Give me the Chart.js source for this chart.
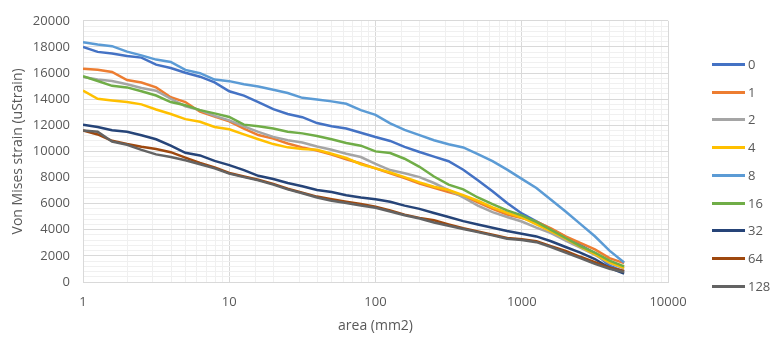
<!DOCTYPE html>
<html>
<head>
<meta charset="utf-8">
<title>Von Mises strain vs area</title>
<script src="https://cdn.jsdelivr.net/npm/chart.js@4.4.1/dist/chart.umd.min.js"></script>
<style>
    body { margin: 0; background: #fff; }
    .wrap { position: relative; width: 770px; height: 338px; }
    .legend { position: absolute; left: 712px; top: 0; font: 13px "Open Sans", sans-serif; color: #595959; }
    .legend-item { position: absolute; left: 0; height: 18px; white-space: nowrap; }
    .legend-line { position: absolute; left: 0; top: 8px; width: 33px; height: 3px; }
    .legend-text { position: absolute; left: 36px; top: 0; line-height: 18px; }
</style>
</head>
<body>
<div class="wrap">
    <canvas id="strainChart" width="770" height="338"></canvas>
    <div class="legend" id="legend"></div>
</div>
<script>
// area (mm2), roughly 10 points per decade
const areas = [1, 1.26, 1.58, 2, 2.51, 3.16, 3.98, 5.01, 6.31, 7.94,
    10, 12.6, 15.8, 20, 25.1, 31.6, 39.8, 50.1, 63.1, 79.4,
    100, 126, 158, 200, 251, 316, 398, 501, 631, 794,
    1000, 1259, 1585, 1995, 2512, 3162, 3981, 5012];

const seriesNames = ['0', '1', '2', '4', '8', '16', '32', '64', '128'];
const seriesColors = ['#4472C4', '#ED7D31', '#A5A5A5', '#FFC000', '#5B9BD5', '#70AD47', '#264478', '#9E480E', '#636363'];

const s0 = [17990, 17620, 17500, 17300, 17180, 16640, 16390, 16020, 15720, 15280,
    14600, 14270, 13780, 13240, 12860, 12620, 12170, 11920, 11750, 11430,
    11100, 10800, 10350, 9950, 9600, 9250, 8600, 7800, 6950, 6050,
    5250, 4650, 4050, 3450, 2850, 2200, 1250, 800];
const s1 = [16330, 16250, 16080, 15460, 15270, 14900, 14150, 13780, 13040, 12660,
    12300, 11750, 11250, 10980, 10610, 10310, 10070, 9750, 9400, 9070,
    8700, 8330, 7950, 7530, 7210, 6890, 6590, 6100, 5600, 5160,
    4900, 4610, 4110, 3490, 2990, 2500, 1830, 1440];
const s2 = [15690, 15510, 15390, 15140, 14850, 14650, 14030, 13460, 13160, 12720,
    12380, 11920, 11500, 11110, 10860, 10680, 10370, 10120, 9820, 9570,
    9050, 8570, 8330, 8030, 7580, 7040, 6470, 5850, 5350, 4980,
    4630, 4160, 3740, 3170, 2630, 2080, 1440, 1020];
const s4 = [14650, 14030, 13900, 13780, 13600, 13210, 12860, 12470, 12270, 11870,
    11700, 11300, 10930, 10560, 10310, 10190, 10120, 9820, 9500, 9020,
    8700, 8380, 8030, 7630, 7290, 7040, 6640, 6220, 5720, 5300,
    4940, 4410, 3870, 3320, 2700, 2130, 1510, 1090];
const s8 = [18365, 18180, 18060, 17640, 17350, 17030, 16850, 16240, 15990, 15500,
    15380, 15140, 14970, 14720, 14470, 14100, 13980, 13830, 13650, 13160,
    12800, 12150, 11650, 11250, 10850, 10550, 10300, 9800, 9250, 8600,
    7900, 7200, 6300, 5400, 4450, 3500, 2400, 1500];
const s16 = [15760, 15390, 15020, 14900, 14600, 14280, 13780, 13530, 13160, 12910,
    12640, 12050, 11920, 11750, 11500, 11380, 11180, 10930, 10640, 10440,
    10000, 9870, 9440, 8820, 8080, 7460, 7090, 6470, 5970, 5480,
    5100, 4610, 3990, 3370, 2750, 2250, 1640, 1190];
const s32 = [12045, 11870, 11620, 11500, 11230, 10930, 10440, 9890, 9690, 9270,
    8950, 8570, 8130, 7880, 7580, 7330, 7040, 6890, 6640, 6470,
    6340, 6150, 5850, 5600, 5280, 4980, 4660, 4410, 4160, 3910,
    3700, 3490, 3120, 2680, 2250, 1760, 1090, 640];
const s64 = [11600, 11300, 10810, 10560, 10360, 10190, 9940, 9520, 9120, 8780,
    8350, 8080, 7830, 7510, 7140, 6840, 6540, 6340, 6150, 5970,
    5760, 5480, 5160, 4910, 4730, 4410, 4110, 3860, 3620, 3370,
    3270, 3120, 2750, 2380, 1930, 1510, 1090, 840];
const s128 = [11600, 11500, 10760, 10510, 10120, 9770, 9570, 9320, 9020, 8700,
    8300, 8030, 7780, 7460, 7090, 6790, 6470, 6220, 6050, 5850,
    5680, 5400, 5110, 4860, 4560, 4310, 4060, 3820, 3570, 3320,
    3220, 3050, 2680, 2250, 1830, 1390, 1020, 770];

const allSeries = [s0, s1, s2, s4, s8, s16, s32, s64, s128];

const yTickLabels = [0, 2000, 4000, 6000, 8000, 10000, 12000, 14000, 16000, 18000, 20000];
const xTickLabels = [1, 10, 100, 1000, 10000];

document.addEventListener('DOMContentLoaded', function() {
    const textColor = '#595959';
    const majorGrid = '#d9d9d9';
    const minorGrid = '#f0f0f0';

    const datasets = allSeries.map(function(values, i) {
        return {
            label: seriesNames[i],
            data: areas.map((a, j) => ({ x: a, y: values[j] })),
            borderColor: seriesColors[i],
            backgroundColor: seriesColors[i],
            borderWidth: 2.5,
            pointRadius: 0,
            fill: false,
            tension: 0,
            // later series drawn on top, like the spreadsheet
            order: allSeries.length - i
        };
    });

    new Chart(document.getElementById('strainChart'), {
        type: 'line',
        data: { datasets: datasets },
        options: {
            responsive: false,
            animation: false,
            layout: { padding: { left: 6, right: 102, top: 13, bottom: 0 } },
            plugins: {
                legend: { display: false },
                tooltip: { enabled: false }
            },
            scales: {
                x: {
                    type: 'logarithmic',
                    min: 1,
                    max: 10000,
                    afterFit: function(scale) { scale.height = 56; },
                    border: { color: majorGrid },
                    grid: {
                        drawTicks: false,
                        color: ctx => xTickLabels.includes(ctx.tick.value) ? majorGrid : minorGrid
                    },
                    ticks: {
                        autoSkip: false,
                        maxRotation: 0,
                        padding: 12,
                        color: textColor,
                        font: { family: 'Open Sans', size: 13 },
                        callback: v => xTickLabels.includes(v) ? String(v) : ''
                    },
                    title: {
                        display: true,
                        text: 'area (mm2)',
                        color: textColor,
                        padding: { top: 4, bottom: 4 },
                        font: { family: 'Open Sans', size: 14 }
                    }
                },
                y: {
                    min: 0,
                    max: 20000,
                    afterFit: function(scale) { scale.width = 77; },
                    border: { color: majorGrid },
                    grid: {
                        drawTicks: false,
                        color: ctx => yTickLabels.includes(ctx.tick.value) ? majorGrid : minorGrid
                    },
                    ticks: {
                        stepSize: 400,
                        autoSkip: false,
                        maxTicksLimit: 100,
                        padding: 13,
                        color: textColor,
                        font: { family: 'Open Sans', size: 13 },
                        callback: v => yTickLabels.includes(v) ? String(v) : ''
                    },
                    title: {
                        display: true,
                        text: 'Von Mises strain (uStrain)',
                        color: textColor,
                        padding: { top: 4, bottom: 4 },
                        font: { family: 'Open Sans', size: 14 }
                    }
                }
            }
        }
    });

    // Legend on the right, built from the same names and colours
    const legend = document.getElementById('legend');
    seriesNames.forEach(function(name, i) {
        const item = document.createElement('div');
        item.className = 'legend-item';
        item.style.top = (55 + i * 27.7) + 'px';
        item.innerHTML = '<span class="legend-line" style="background:' + seriesColors[i] + '"></span>' +
            '<span class="legend-text">' + name + '</span>';
        legend.appendChild(item);
    });
});
</script>
</body>
</html>
